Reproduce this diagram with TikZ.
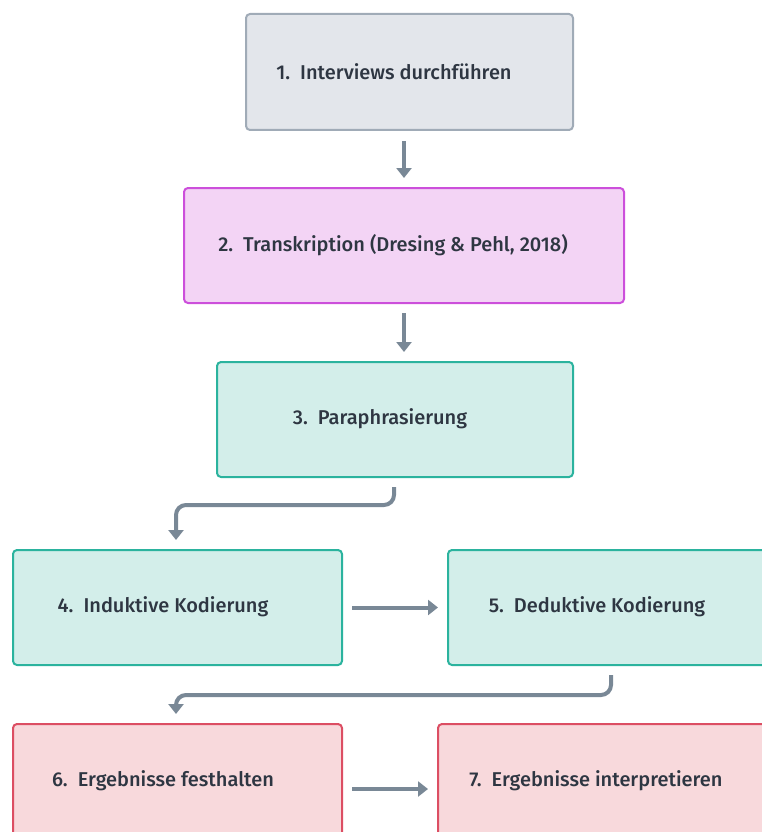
\documentclass[tikz,border=0pt]{standalone}
\usepackage{fontspec}
\setmainfont{Fira Sans}[UprightFont={* Medium}]
\usetikzlibrary{arrows.meta}
\definecolor{grayfill}{HTML}{E3E6EB}
\definecolor{grayline}{HTML}{A0ABB7}
\definecolor{pinkfill}{HTML}{F3D4F5}
\definecolor{pinkline}{HTML}{CC4FDB}
\definecolor{tealfill}{HTML}{D3EEEA}
\definecolor{tealline}{HTML}{2BB39E}
\definecolor{redfill}{HTML}{F8D9DC}
\definecolor{redline}{HTML}{DC4E63}
\definecolor{arrowc}{HTML}{798896}
\definecolor{textc}{HTML}{2E3642}
\begin{document}
\begin{tikzpicture}[x=1pt,y=-1pt,
  box/.style={draw, line width=2pt, rounded corners=4pt, anchor=north west, inner sep=0pt},
  graybox/.style={box, fill=grayfill, draw=grayline},
  pinkbox/.style={box, fill=pinkfill, draw=pinkline},
  tealbox/.style={box, fill=tealfill, draw=tealline},
  redbox/.style={box, fill=redfill, draw=redline},
  lbl/.style={text=textc, font=\fontsize{20}{24}\selectfont, inner sep=0pt},
  arr/.style={draw=arrowc, line width=4pt, -{Triangle[width=15pt,length=10pt]}}
]
\useasboundingbox (0,0) rectangle (762,832);
\clip (0,0) rectangle (762,832);
\node[graybox, minimum width=327pt, minimum height=116pt] (b1) at (245,13) {};
\node[pinkbox, minimum width=440pt, minimum height=115pt] (b2) at (183,187) {};
\node[tealbox, minimum width=356pt, minimum height=115pt] (b3) at (216,361) {};
\node[tealbox, minimum width=329pt, minimum height=115pt] (b4) at (12,549) {};
\node[tealbox, minimum width=330pt, minimum height=115pt] (b5) at (447,549) {};
\node[redbox, minimum width=329pt, minimum height=130pt] (b6) at (12,723) {};
\node[redbox, minimum width=340pt, minimum height=130pt] (b7) at (437,723) {};

\node[lbl] (t1) at (394,72) {1.\enspace Interviews durchführen};
\node[lbl] (t2) at (393,245) {2.\enspace Transkription (Dresing \& Pehl, 2018)};
\node[lbl] (t3) at (380,419) {3.\enspace Paraphrasierung};
\node[lbl] (t4) at (163,607) {4.\enspace Induktive Kodierung};
\node[lbl] (t5) at (597,607) {5.\enspace Deduktive Kodierung};
\node[lbl] (t6) at (163,781) {6.\enspace Ergebnisse festhalten};
\node[lbl] (t7) at (596,781) {7.\enspace Ergebnisse interpretieren};

\draw[arr, shorten <=10pt, shorten >=9pt] (b2.north |- b1.south) -- (b2.north);
\draw[arr, shorten <=9pt, shorten >=9pt] (b2.south) -- (b2.south |- b3.north);
\draw[arr, rounded corners=10pt, shorten <=9pt, shorten >=9pt] ([xshift=-1pt]b3.south) -- ++(0,27) -| ([xshift=-1.5pt]b4.north);
\draw[arr, shorten <=9pt, shorten >=9pt] (b4.east) -- (b5.west);
\draw[arr, rounded corners=10pt, shorten <=9pt, shorten >=9pt] ([xshift=-2pt]b5.south) -- ++(0,29) -| ([xshift=-1.5pt]b6.north);
\draw[arr, shorten <=9pt, shorten >=9pt] (b6.east) -- (b7.west);
\end{tikzpicture}
\end{document}
